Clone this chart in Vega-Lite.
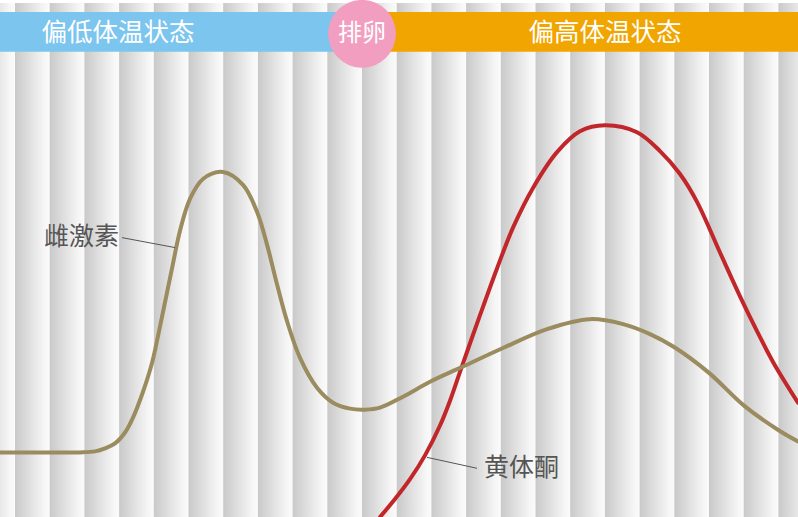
{
  "$schema": "https://vega.github.io/schema/vega-lite/v6.json",
  "width": 798,
  "height": 517,
  "padding": 0,
  "autosize": {"type": "fit", "contains": "padding"},
  "background": "#ffffff",
  "config": {"view": {"stroke": null}},
  "datasets": {
    "stripes": [
      {"s": -19.7, "e": 15}, {"s": 15, "e": 49.7}, {"s": 49.7, "e": 84.4}, {"s": 84.4, "e": 119.1},
      {"s": 119.1, "e": 153.8}, {"s": 153.8, "e": 188.5}, {"s": 188.5, "e": 223.2}, {"s": 223.2, "e": 257.9},
      {"s": 257.9, "e": 292.6}, {"s": 292.6, "e": 327.3}, {"s": 327.3, "e": 362}, {"s": 362, "e": 396.7},
      {"s": 396.7, "e": 431.4}, {"s": 431.4, "e": 466.1}, {"s": 466.1, "e": 500.8}, {"s": 500.8, "e": 535.5},
      {"s": 535.5, "e": 570.2}, {"s": 570.2, "e": 604.9}, {"s": 604.9, "e": 639.6}, {"s": 639.6, "e": 674.3},
      {"s": 674.3, "e": 709}, {"s": 709, "e": 743.7}, {"s": 743.7, "e": 778.4}, {"s": 778.4, "e": 813.1}
    ],
    "bands": [
      {"phase": "low", "x0": 0, "x1": 345, "y0": 468, "y1": 508, "label": "偏低体温状态", "cx": 118},
      {"phase": "high", "x0": 380, "x1": 798, "y0": 468, "y1": 508, "label": "偏高体温状态", "cx": 605}
    ],
    "ovulation": [{"x": 362, "y": 486, "label": "排卵"}],
    "estrogen": [
      {"t": 0, "v": 65}, {"t": 40, "v": 65}, {"t": 80, "v": 65}, {"t": 95, "v": 66}, {"t": 105, "v": 69},
      {"t": 115, "v": 74}, {"t": 125, "v": 85}, {"t": 133, "v": 100}, {"t": 143, "v": 126}, {"t": 152, "v": 155}, {"t": 158, "v": 182},
      {"t": 165, "v": 216}, {"t": 172, "v": 250}, {"t": 180, "v": 288}, {"t": 190, "v": 320}, {"t": 203, "v": 340},
      {"t": 223, "v": 347}, {"t": 243, "v": 334}, {"t": 257, "v": 307}, {"t": 267, "v": 274}, {"t": 277, "v": 234},
      {"t": 287, "v": 197}, {"t": 300, "v": 160}, {"t": 317, "v": 130}, {"t": 333, "v": 115}, {"t": 350, "v": 109},
      {"t": 365, "v": 108}, {"t": 380, "v": 110}, {"t": 403, "v": 121}, {"t": 430, "v": 136}, {"t": 460, "v": 150},
      {"t": 503, "v": 170}, {"t": 547, "v": 189}, {"t": 590, "v": 199}, {"t": 623, "v": 194}, {"t": 650, "v": 184},
      {"t": 674, "v": 171}, {"t": 709, "v": 145}, {"t": 744, "v": 112}, {"t": 779, "v": 87}, {"t": 798, "v": 76}
    ],
    "progesterone": [
      {"t": 380, "v": 0}, {"t": 395, "v": 18}, {"t": 410, "v": 38}, {"t": 425, "v": 62}, {"t": 440, "v": 92},
      {"t": 450, "v": 117}, {"t": 460, "v": 146}, {"t": 480, "v": 203}, {"t": 497, "v": 250}, {"t": 513, "v": 291},
      {"t": 533, "v": 331}, {"t": 557, "v": 367}, {"t": 580, "v": 388}, {"t": 605, "v": 394}, {"t": 637, "v": 387},
      {"t": 660, "v": 368}, {"t": 680, "v": 345}, {"t": 697, "v": 317}, {"t": 720, "v": 266}, {"t": 740, "v": 222},
      {"t": 757, "v": 187}, {"t": 773, "v": 156}, {"t": 798, "v": 115}
    ],
    "labels": [
      {"name": "雌激素", "lx": 122, "ly": 281, "px": 175, "py": 271, "tx": 44, "ty": 282},
      {"name": "黄体酮", "lx": 477, "ly": 49, "px": 427, "py": 60, "tx": 484, "ty": 49}
    ]
  },
  "layer": [
    {
      "data": {"name": "stripes"},
      "mark": {
        "type": "rect",
        "clip": true,
        "fill": {
          "gradient": "linear", "x1": 0, "x2": 1, "y1": 0, "y2": 0,
          "stops": [
            {"offset": 0, "color": "#c9c9c9"},
            {"offset": 0.82, "color": "#f5f5f5"},
            {"offset": 1, "color": "#fbfbfb"}
          ]
        }
      },
      "encoding": {
        "x": {"field": "s", "type": "quantitative", "scale": {"domain": [0, 798], "nice": false, "zero": false}, "axis": null},
        "x2": {"field": "e"}
      }
    },
    {
      "data": {"name": "bands"},
      "mark": {"type": "rect"},
      "encoding": {
        "x": {"field": "x0", "type": "quantitative", "scale": {"domain": [0, 798], "nice": false, "zero": false}, "axis": null},
        "x2": {"field": "x1"},
        "y": {"field": "y0", "type": "quantitative", "scale": {"domain": [0, 517], "nice": false, "zero": false}, "axis": null},
        "y2": {"field": "y1"},
        "color": {"field": "phase", "type": "nominal", "scale": {"domain": ["low", "high"], "range": ["#7bc5ef", "#f1a500"]}, "legend": null}
      }
    },
    {
      "data": {"name": "bands"},
      "mark": {"type": "text", "color": "#ffffff", "fontSize": 25.5, "font": "Noto Sans CJK SC", "align": "center", "baseline": "middle"},
      "encoding": {
        "x": {"field": "cx", "type": "quantitative"},
        "y": {"datum": 487, "type": "quantitative"},
        "text": {"field": "label"}
      }
    },
    {
      "data": {"name": "ovulation"},
      "mark": {"type": "point", "shape": "circle", "filled": true, "size": 4600, "color": "#f19ec0", "opacity": 1},
      "encoding": {
        "x": {"field": "x", "type": "quantitative"},
        "y": {"field": "y", "type": "quantitative"}
      }
    },
    {
      "data": {"name": "ovulation"},
      "mark": {"type": "text", "color": "#ffffff", "fontSize": 24, "font": "Noto Sans CJK SC", "align": "center", "baseline": "middle"},
      "encoding": {
        "x": {"field": "x", "type": "quantitative"},
        "y": {"field": "y", "type": "quantitative"},
        "text": {"field": "label"}
      }
    },
    {
      "data": {"name": "progesterone"},
      "mark": {"type": "line", "interpolate": "catmull-rom", "color": "#c1272a", "strokeWidth": 4, "strokeCap": "round", "clip": true},
      "encoding": {
        "x": {"field": "t", "type": "quantitative"},
        "y": {"field": "v", "type": "quantitative"}
      }
    },
    {
      "data": {"name": "estrogen"},
      "mark": {"type": "line", "interpolate": "catmull-rom", "color": "#9a8c5f", "strokeWidth": 4, "strokeCap": "round", "clip": true},
      "encoding": {
        "x": {"field": "t", "type": "quantitative"},
        "y": {"field": "v", "type": "quantitative"}
      }
    },
    {
      "data": {"name": "labels"},
      "mark": {"type": "rule", "color": "#555555", "strokeWidth": 1},
      "encoding": {
        "x": {"field": "lx", "type": "quantitative"},
        "y": {"field": "ly", "type": "quantitative"},
        "x2": {"field": "px"},
        "y2": {"field": "py"}
      }
    },
    {
      "data": {"name": "labels"},
      "mark": {"type": "text", "color": "#555555", "fontSize": 25, "font": "Noto Sans CJK SC", "align": "left", "baseline": "middle"},
      "encoding": {
        "x": {"field": "tx", "type": "quantitative"},
        "y": {"field": "ty", "type": "quantitative"},
        "text": {"field": "name"}
      }
    }
  ]
}
